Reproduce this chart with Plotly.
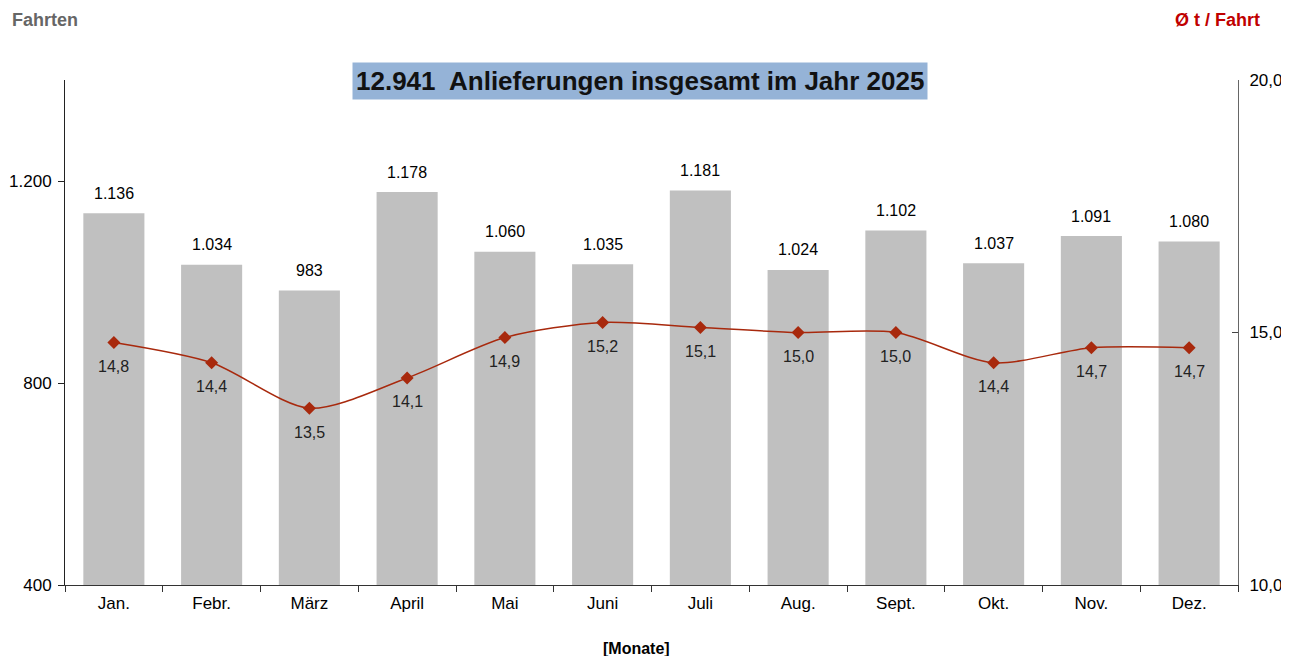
import plotly.graph_objects as go

monate = ['Jan.', 'Febr.', 'März', 'April', 'Mai', 'Juni', 'Juli', 'Aug.', 'Sept.', 'Okt.', 'Nov.', 'Dez.']
fahrten = [1136, 1034, 983, 1178, 1060, 1035, 1181, 1024, 1102, 1037, 1091, 1080]
t_pro_fahrt = [14.8, 14.4, 13.5, 14.1, 14.9, 15.2, 15.1, 15.0, 15.0, 14.4, 14.7, 14.7]

font = 'Liberation Sans, Arial, sans-serif'
red = '#a8290d'

fig = go.Figure()

fig.add_trace(go.Bar(
  x=monate,
  y=fahrten,
  marker=dict(color='#c0c0c0', line=dict(width=0)),
  width=0.625,
  showlegend=False,
  hoverinfo='skip',
))

fig.add_trace(go.Scatter(
  x=monate,
  y=t_pro_fahrt,
  yaxis='y2',
  mode='lines+markers',
  line=dict(color=red, width=1.5, shape='spline', smoothing=0.8),
  marker=dict(symbol='diamond', size=10, color=red),
  showlegend=False,
))

# value labels: bars above, line values below the markers
labels = []
for m, v in zip(monate, fahrten):
  labels.append(dict(x=m, y=v, xref='x', yref='y', text=f'{v:,}'.replace(',', '.'),
                     showarrow=False, yshift=20, font=dict(size=16, color='black')))
for m, v in zip(monate, t_pro_fahrt):
  labels.append(dict(x=m, y=v, xref='x', yref='y2', text=f'{v:.1f}'.replace('.', ','),
                     showarrow=False, yshift=-24, font=dict(size=16, color='#222')))

fig.update_layout(
  width=1273,
  height=648,
  separators=',.',
  font=dict(family=font, size=17, color='black'),
  paper_bgcolor='white',
  plot_bgcolor='white',
  margin=dict(l=57, r=43, t=72, b=71, pad=0, autoexpand=False),
  xaxis=dict(
    range=[-0.5, len(monate) - 0.5],
    showline=True,
    linecolor='#333',
    linewidth=1,
    ticks='outside',
    tickson='boundaries',
    ticklen=6,
    tickcolor='#333',
    ticklabelstandoff=3,
    tickfont=dict(size=17),
    showgrid=False,
    automargin=False,
  ),
  yaxis=dict(
    range=[400, 1400],
    tickvals=[400, 800, 1200],
    tickformat=',',
    showline=True,
    linecolor='#222',
    ticks='outside',
    ticklen=6,
    tickcolor='#222',
    ticklabelstandoff=3,
    showgrid=False,
    zeroline=False,
    tickfont=dict(size=17),
    automargin=False,
  ),
  yaxis2=dict(
    range=[10, 20],
    tickvals=[10, 15, 20],
    tickformat='.1f',
    overlaying='y',
    side='right',
    showline=True,
    linecolor='#666',
    ticks='inside',
    ticklen=6,
    tickcolor='#444',
    ticklabelstandoff=7,
    showgrid=False,
    zeroline=False,
    tickfont=dict(size=17),
    automargin=False,
  ),
  annotations=labels + [
    dict(text='<b>12.941  Anlieferungen insgesamt im Jahr 2025</b>',
         xref='paper', yref='paper', x=0.49, y=0.998, yanchor='middle', xanchor='center',
         showarrow=False, bgcolor='#95b3d7', borderpad=3,
         font=dict(size=26, color='#111')),
    dict(text='<b>Fahrten</b>', xref='paper', yref='paper', x=-0.0469, y=1.119,
         xanchor='left', yanchor='middle', showarrow=False,
         font=dict(size=18, color='#666')),
    dict(text='<b>Ø t / Fahrt</b>', xref='paper', yref='paper', x=1.0205, y=1.119,
         xanchor='right', yanchor='middle', showarrow=False,
         font=dict(size=18, color='#c00000')),
    dict(text='<b>[Monate]</b>', xref='paper', yref='paper', x=0.4868, y=-0.1267,
         xanchor='center', yanchor='middle', showarrow=False,
         font=dict(size=16, color='black')),
  ],
)

fig.write_html('out.html')
